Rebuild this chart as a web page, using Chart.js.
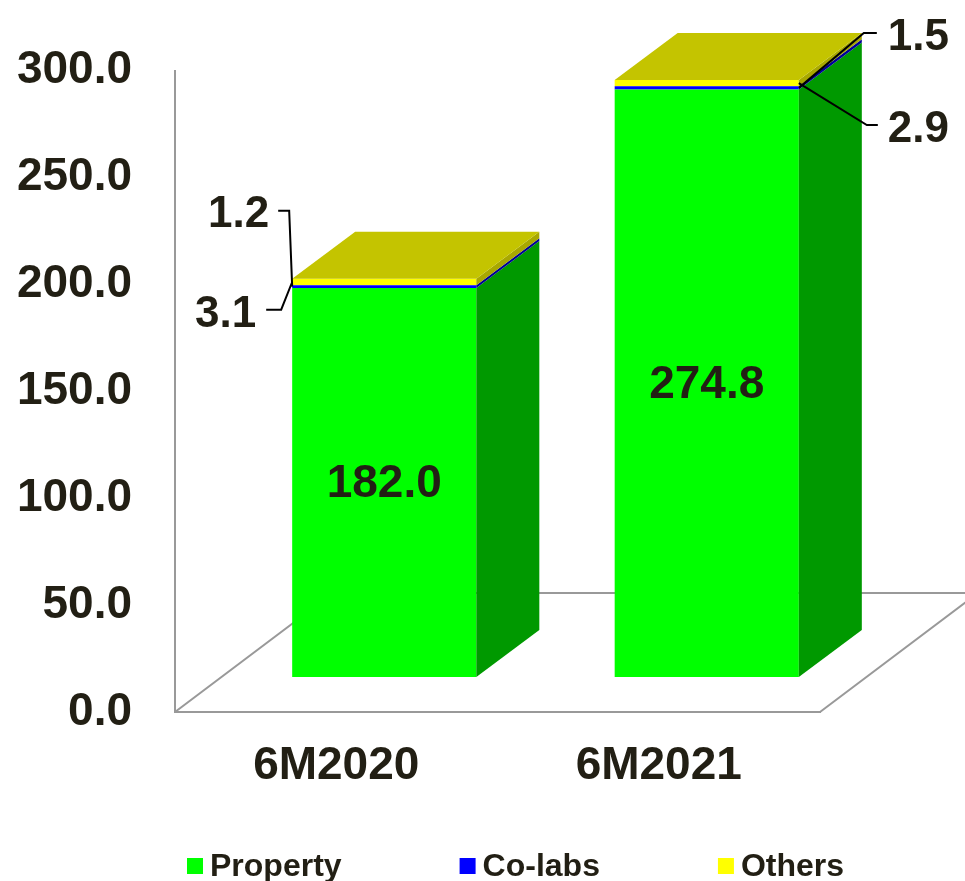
<!DOCTYPE html>
<html>
<head>
<meta charset="utf-8">
<script src="https://cdn.jsdelivr.net/npm/chart.js@4"></script>
<style>
  html, body { margin: 0; padding: 0; background: #fff; }
  #wrap { width: 965px; height: 881px; position: relative; }
</style>
</head>
<body>
<div id="wrap"><canvas id="chart"></canvas></div>
<script>
const categories = ['6M2020', '6M2021'];
const property = [182.0, 274.8];
const coLabs = [1.2, 1.5];
const others = [3.1, 2.9];
const seriesNames = ['Property', 'Co-labs', 'Others'];
const yMin = 0, yMax = 300, yStep = 50;

const FONT = 'Arial, "Liberation Sans", sans-serif';
const TEXT = '#221f14';
const frontColors = ['#00ff00', '#0000ff', '#ffff00'];
const sideColors = ['#009900', '#000099', '#a8a800'];
const topColor = '#c4c400';

// fake 3d: bars sit part way back on the floor
const shiftX = 48, shiftY = -35;
const depthX = 63, depthY = -47;
const floorX = 158, floorY = -119;

function poly(ctx, color, pts) {
    ctx.fillStyle = color;
    ctx.beginPath();
    ctx.moveTo(pts[0][0], pts[0][1]);
    for (let i = 1; i < pts.length; i++) ctx.lineTo(pts[i][0], pts[i][1]);
    ctx.closePath();
    ctx.fill();
}

function leader(ctx, pts) {
    ctx.strokeStyle = '#000';
    ctx.lineWidth = 2;
    ctx.beginPath();
    ctx.moveTo(pts[0][0], pts[0][1]);
    for (let i = 1; i < pts.length; i++) ctx.lineTo(pts[i][0], pts[i][1]);
    ctx.stroke();
}

const box3d = {
    id: 'box3d',
    beforeDatasetsDraw(chart) {
        const { ctx, chartArea: a } = chart;
        ctx.save();
        ctx.strokeStyle = '#999';
        ctx.lineWidth = 2;
        ctx.beginPath();
        ctx.moveTo(a.left, a.bottom);
        ctx.lineTo(a.left + floorX, a.bottom + floorY);
        ctx.lineTo(a.right + floorX, a.bottom + floorY);
        ctx.lineTo(a.right, a.bottom);
        ctx.stroke();
        ctx.restore();
        ctx.save();
        ctx.translate(shiftX, shiftY);
    },
    afterDatasetsDraw(chart) {
        const ctx = chart.ctx;
        const n = chart.data.datasets.length;
        for (let i = 0; i < n; i++) {
            chart.getDatasetMeta(i).data.forEach(bar => {
                const { x, y, base, width } = bar.getProps(['x', 'y', 'base', 'width'], true);
                const l = x - width / 2, r = x + width / 2;
                poly(ctx, sideColors[i], [[r, y], [r + depthX, y + depthY], [r + depthX, base + depthY], [r, base]]);
                if (i === n - 1) {
                    poly(ctx, topColor, [[l, y], [l + depthX, y + depthY], [r + depthX, y + depthY], [r, y]]);
                }
            });
        }

        // value in the big segment
        ctx.fillStyle = TEXT;
        ctx.font = 'bold 46px ' + FONT;
        ctx.textAlign = 'center';
        ctx.textBaseline = 'middle';
        chart.getDatasetMeta(0).data.forEach((bar, j) => {
            const { x, y, base } = bar.getProps(['x', 'y', 'base'], true);
            ctx.fillText(property[j].toFixed(1), x, (y + base) / 2 + 2);
        });

        // small segments get labels with leader lines
        ctx.font = 'bold 44px ' + FONT;
        const topMeta = chart.getDatasetMeta(n - 1).data;
        topMeta.forEach((topBar, j) => {
            const tp = topBar.getProps(['x', 'y', 'width'], true);
            const left = j === 0;
            const cx = left ? tp.x - tp.width / 2 : tp.x + tp.width / 2;
            const cy = tp.y + 3;
            [1, 2].forEach((i, k) => {
                const b = chart.getDatasetMeta(i).data[j].getProps(['y', 'base'], true);
                const my = (b.y + b.base) / 2;
                const val = chart.data.datasets[i].data[j].toFixed(1);
                let pts, tx, ty;
                if (left) {
                    pts = k === 0
                        ? [[cx, my], [cx - 3, cy - 71], [cx - 14, cy - 71]]
                        : [[cx, my], [cx - 11, cy + 28], [cx - 26, cy + 28]];
                    tx = k === 0 ? cx - 23 : cx - 36;
                    ty = k === 0 ? cy - 67 : cy + 33;
                    ctx.textAlign = 'right';
                } else {
                    pts = k === 0
                        ? [[cx, my], [cx + 65, cy - 50], [cx + 78, cy - 50]]
                        : [[cx, my], [cx + 68, cy + 42], [cx + 79, cy + 42]];
                    tx = cx + 89;
                    ty = k === 0 ? cy - 45 : cy + 47;
                    ctx.textAlign = 'left';
                }
                leader(ctx, pts);
                ctx.fillStyle = TEXT;
                ctx.fillText(val, tx, ty);
            });
        });
        ctx.restore();
    },
    afterDraw(chart) {
        const ctx = chart.ctx;
        ctx.save();
        ctx.font = 'bold 32px ' + FONT;
        ctx.textAlign = 'left';
        ctx.textBaseline = 'alphabetic';
        let x = 187;
        seriesNames.forEach((name, i) => {
            ctx.fillStyle = frontColors[i];
            ctx.fillRect(x, 858, 16, 16);
            ctx.fillStyle = TEXT;
            ctx.fillText(name, x + 23, 876);
            x += 23 + ctx.measureText(name).width + 118;
        });
        ctx.restore();
    }
};

const datasets = [property, coLabs, others].map((vals, i) => ({
    label: seriesNames[i],
    data: vals,
    backgroundColor: frontColors[i],
    borderWidth: 0,
    categoryPercentage: 1,
    barPercentage: 0.571,
    clip: false
}));

new Chart(document.getElementById('chart'), {
    type: 'bar',
    data: { labels: categories, datasets: datasets },
    options: {
        responsive: true,
        maintainAspectRatio: false,
        animation: false,
        layout: { padding: { top: 69, right: 145, left: 0, bottom: 0 } },
        plugins: {
            legend: { display: false },
            tooltip: { enabled: false }
        },
        scales: {
            x: {
                stacked: true,
                grid: { display: false, drawTicks: false },
                border: { display: true, color: '#999', width: 2 },
                ticks: { color: TEXT, font: { family: FONT, size: 46, weight: 'bold' }, padding: 27, maxRotation: 0 },
                afterFit(s) { s.height = 169; }
            },
            y: {
                stacked: true,
                min: yMin,
                max: yMax,
                grid: { display: false, drawTicks: false },
                border: { display: true, color: '#999', width: 2 },
                ticks: {
                    stepSize: yStep,
                    color: TEXT,
                    font: { family: FONT, size: 46, weight: 'bold' },
                    padding: 43,
                    callback: v => v.toFixed(1)
                },
                afterFit(s) { s.width = 175; }
            }
        }
    },
    plugins: [box3d]
});
</script>
</body>
</html>
